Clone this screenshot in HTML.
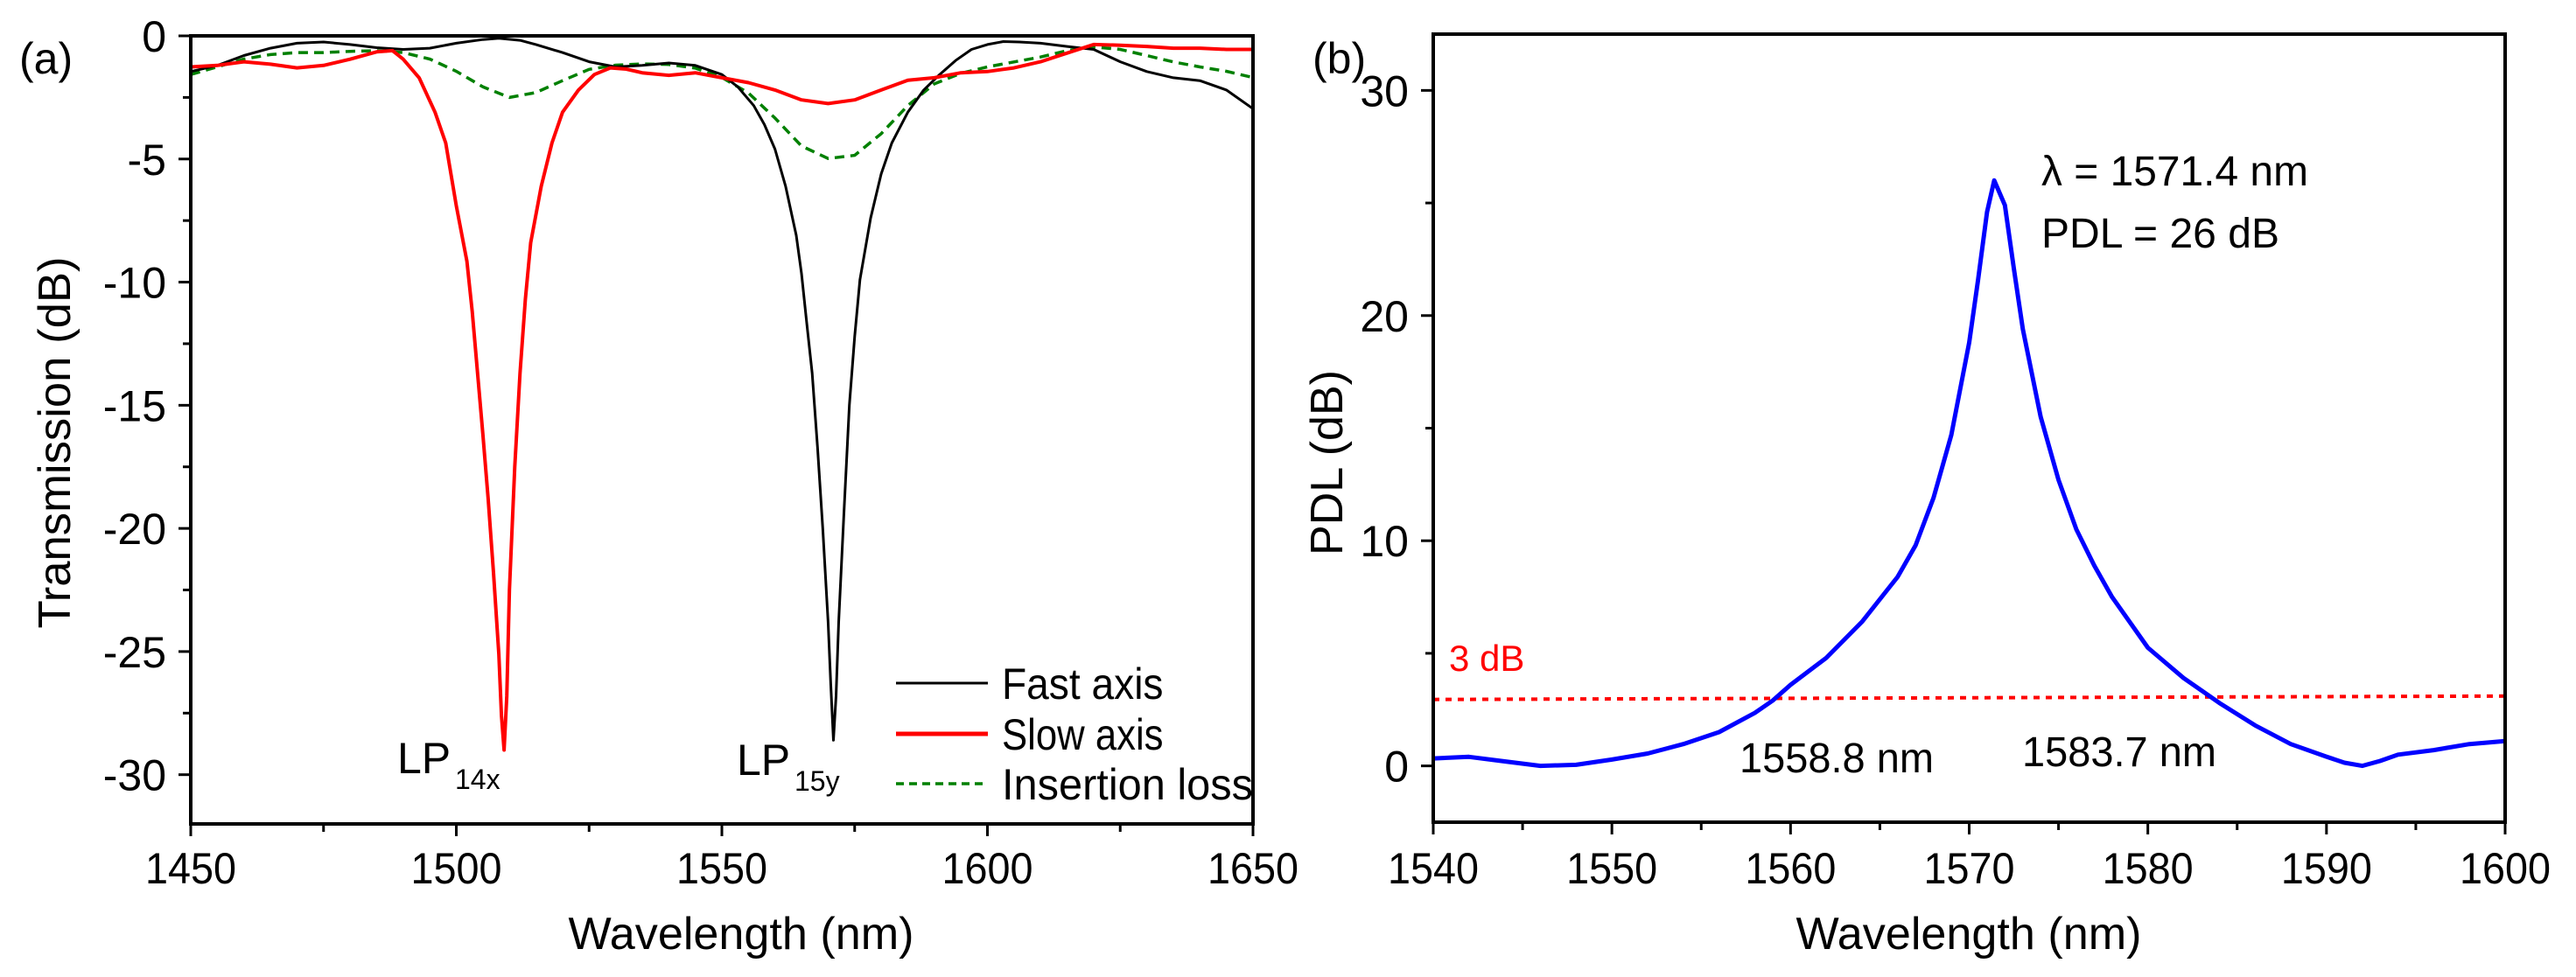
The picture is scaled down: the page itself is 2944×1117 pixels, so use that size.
<!DOCTYPE html>
<html><head><meta charset="utf-8"><style>
html,body{margin:0;padding:0;background:#fff}
svg{display:block;font-family:"Liberation Sans",Arial,sans-serif}
</style></head><body>
<svg id="chart" width="2944" height="1117" viewBox="0 0 2944 1117" xmlns="http://www.w3.org/2000/svg">
<g id="pa"></g>
<g id="pb"></g>
</svg>
<script>
// Panel (a) data
const aWl = [1450,1455,1460,1465,1470,1475,1480,1485,1488,1490,1493,1496,1498,1500,1502,1503,1504,1505,1506,1507,1508,1508.5,1509,1509.5,1510,1511,1512,1513,1514,1516,1518,1520,1523,1526,1529,1532,1535,1540,1545,1550,1555,1560,1565,1570,1575,1580,1585,1590,1595,1600,1605,1610,1615,1620,1625,1630,1635,1640,1645,1650];
const slowAxis = [-1.26,-1.2,-1.05,-1.15,-1.3,-1.2,-0.95,-0.65,-0.6,-0.95,-1.7,-3.1,-4.35,-6.9,-9.15,-11.2,-13.7,-16.2,-18.8,-21.8,-25.1,-27.6,-29.0,-26.8,-22.5,-17.5,-13.7,-10.7,-8.4,-6.1,-4.35,-3.1,-2.2,-1.57,-1.3,-1.35,-1.5,-1.6,-1.5,-1.7,-1.9,-2.2,-2.6,-2.75,-2.6,-2.2,-1.8,-1.7,-1.5,-1.45,-1.3,-1.05,-0.7,-0.35,-0.38,-0.43,-0.5,-0.5,-0.55,-0.55];
const fastWl = [1450,1455,1460,1465,1470,1475,1480,1485,1490,1495,1500,1505,1508,1512,1515,1520,1525,1530,1535,1540,1545,1550,1553,1556,1558,1560,1562,1564,1565,1566,1567,1568,1569,1570,1570.5,1571,1571.5,1572,1573,1574,1575,1576,1578,1580,1582,1585,1588,1591,1594,1597,1600,1603,1606,1610,1615,1620,1625,1630,1635,1640,1645,1650];
const fastAxis = [-1.45,-1.2,-0.8,-0.5,-0.3,-0.25,-0.35,-0.48,-0.55,-0.5,-0.3,-0.15,-0.1,-0.18,-0.35,-0.68,-1.05,-1.26,-1.2,-1.1,-1.2,-1.57,-2.07,-2.83,-3.6,-4.6,-6.1,-8.1,-9.65,-11.7,-13.7,-16.7,-20.0,-23.8,-26.3,-28.6,-26.8,-23.8,-19.3,-15,-12.2,-9.9,-7.4,-5.6,-4.35,-3.1,-2.2,-1.57,-1.0,-0.55,-0.35,-0.23,-0.25,-0.3,-0.43,-0.55,-1.05,-1.45,-1.7,-1.82,-2.2,-2.96];
const ilWl = [1450,1455,1460,1465,1470,1475,1480,1485,1490,1495,1500,1505,1510,1515,1520,1525,1530,1535,1540,1545,1550,1555,1560,1565,1570,1575,1580,1585,1590,1595,1600,1605,1610,1615,1620,1625,1630,1635,1640,1645,1650];
const insertionLoss = [-1.57,-1.26,-0.94,-0.76,-0.68,-0.68,-0.63,-0.6,-0.68,-0.94,-1.44,-2.07,-2.5,-2.3,-1.82,-1.36,-1.19,-1.14,-1.16,-1.31,-1.69,-2.32,-3.34,-4.47,-4.98,-4.85,-3.97,-2.83,-1.95,-1.52,-1.26,-1.06,-0.86,-0.6,-0.45,-0.55,-0.8,-1.06,-1.26,-1.44,-1.69];
const aXTicks = [1450,1500,1550,1600,1650];
const aYTicks = [0,-5,-10,-15,-20,-25,-30];
// Panel (b) data
const bWl = [1540,1542,1544,1546,1548,1550,1552,1554,1556,1558,1559,1560,1562,1564,1566,1567,1568,1569,1570,1570.5,1571,1571.4,1572,1572.5,1573,1574,1575,1576,1577,1578,1580,1582,1584,1586,1588,1590,1591,1592,1593,1594,1596,1598,1600];
const pdl = [0.33,0.4,0.2,0.0,0.05,0.28,0.55,0.97,1.5,2.35,2.9,3.6,4.8,6.4,8.4,9.8,11.9,14.7,18.8,21.6,24.6,26.0,24.9,22.1,19.4,15.5,12.7,10.5,8.9,7.5,5.25,3.9,2.8,1.8,0.97,0.41,0.14,0.0,0.22,0.5,0.7,0.97,1.1];
const thrWl = [1540,1600];
const thrVal = [2.95,3.1];
const bXTicks = [1540,1550,1560,1570,1580,1590,1600];
const bYTicks = [0,10,20,30];

const NS = "http://www.w3.org/2000/svg";
function mk(parent, tag, attrs, text){
  const e = document.createElementNS(NS, tag);
  for (const k in attrs) e.setAttribute(k, attrs[k]);
  if (text !== undefined) e.textContent = text;
  parent.appendChild(e);
  return e;
}
function pathD(xs, ys, fx, fy){
  return xs.map((x,i)=>(i?'L':'M')+fx(x).toFixed(1)+','+fy(ys[i]).toFixed(1)).join('');
}

// ---------- Panel A ----------
const pa = document.getElementById('pa');
const aL=218,aR=1432,aT=41,aB=942;
const ax = v => aL + (v-1450)/(200)*(aR-aL);
const ay = v => aT + (0 - v)/32*(aB-aT);
let e;
e = mk(pa,'path',{d:pathD(ilWl,insertionLoss,ax,ay),fill:'none',stroke:'#008000','stroke-width':3.5,'stroke-dasharray':'11 7'});


e = mk(pa,'path',{d:pathD(fastWl,fastAxis,ax,ay),fill:'none',stroke:'#000','stroke-width':3,'stroke-linejoin':'round'});


e = mk(pa,'path',{d:pathD(aWl,slowAxis,ax,ay),fill:'none',stroke:'#ff0000','stroke-width':4,'stroke-linejoin':'round'});


e = mk(pa,'rect',{x:aL,y:aT,width:aR-aL,height:aB-aT,fill:'none',stroke:'#000','stroke-width':4});


for (let v=1450; v<=1650; v+=25){
  const maj = (v%50===0);
  e = mk(pa,'line',{x1:ax(v),x2:ax(v),y1:aB,y2:aB+(maj?14:9),stroke:'#000','stroke-width':3});
  
  
}
aXTicks.forEach(v=>{
  e = mk(pa,'text',{x:ax(v),y:1010,'font-size':50,'text-anchor':'middle',textLength:104,lengthAdjust:'spacingAndGlyphs'},String(v));
  
  
});
for (let v=0; v>=-30; v-=2.5){
  const maj = (v%5===0);
  e = mk(pa,'line',{x1:aL-(maj?14:9),x2:aL,y1:ay(v),y2:ay(v),stroke:'#000','stroke-width':3});
  
  
}
aYTicks.forEach(v=>{
  e = mk(pa,'text',{x:190,y:ay(v)+18,'font-size':50,'text-anchor':'end'},String(v));
  
  
});
e = mk(pa,'text',{x:0,y:0,'font-size':52,'text-anchor':'middle',transform:'translate(80,506) rotate(-90)',textLength:425,lengthAdjust:'spacingAndGlyphs'},'Transmission (dB)');


e = mk(pa,'text',{x:847,y:1085,'font-size':52,'text-anchor':'middle',textLength:395,lengthAdjust:'spacingAndGlyphs'},'Wavelength (nm)');


e = mk(pa,'text',{x:22,y:84,'font-size':50},'(a)');


e = mk(pa,'text',{x:454,y:884,'font-size':50},'LP');


e = mk(pa,'text',{x:520,y:902,'font-size':32},'14x');


e = mk(pa,'text',{x:842,y:886,'font-size':50},'LP');


e = mk(pa,'text',{x:908,y:904,'font-size':32},'15y');


const legItems = [['Fast axis','#000',3,null,781],['Slow axis','#ff0000',5,null,839],['Insertion loss','#008000',3.5,'9 6',896]];
legItems.forEach(it=>{
  const g = mk(pa,'g',{});
  
  
  const at = {x1:1024,x2:1129,y1:it[4],y2:it[4],stroke:it[1],'stroke-width':it[2]};
  if (it[3]) at['stroke-dasharray']=it[3];
  e = mk(g,'line',at);
  
  
  e = mk(g,'text',{x:1145,y:it[4]+18,'font-size':50,textLength:it[0].length*20.5,lengthAdjust:'spacingAndGlyphs'},it[0]);
  
  
});

// ---------- Panel B ----------
const pb = document.getElementById('pb');
const bL=1638,bR=2863,bT=39,bB=940;
const bx = v => bL + (v-1540)/60*(bR-bL);
const by = v => bT + (32.5 - v)/35*(bB-bT);
e = mk(pb,'path',{d:pathD(thrWl,thrVal,bx,by),fill:'none',stroke:'#ff0000','stroke-width':4,'stroke-dasharray':'7 7'});


e = mk(pb,'path',{d:pathD(bWl,pdl,bx,by),fill:'none',stroke:'#0000ff','stroke-width':5,'stroke-linejoin':'round'});


e = mk(pb,'rect',{x:bL,y:bT,width:bR-bL,height:bB-bT,fill:'none',stroke:'#000','stroke-width':4});


for (let v=1540; v<=1600; v+=5){
  const maj = (v%10===0);
  e = mk(pb,'line',{x1:bx(v),x2:bx(v),y1:bB,y2:bB+(maj?14:9),stroke:'#000','stroke-width':3});
  
  
}
bXTicks.forEach(v=>{
  e = mk(pb,'text',{x:bx(v),y:1010,'font-size':50,'text-anchor':'middle',textLength:104,lengthAdjust:'spacingAndGlyphs'},String(v));
  
  
});
for (let v=0; v<=30; v+=5){
  const maj = (v%10===0);
  e = mk(pb,'line',{x1:bL-(maj?14:9),x2:bL,y1:by(v),y2:by(v),stroke:'#000','stroke-width':3});
  
  
}
bYTicks.forEach(v=>{
  e = mk(pb,'text',{x:1610,y:by(v)+18,'font-size':50,'text-anchor':'end'},String(v));
  
  
});
e = mk(pb,'text',{x:0,y:0,'font-size':52,'text-anchor':'middle',transform:'translate(1534,529) rotate(-90)'},'PDL (dB)');


e = mk(pb,'text',{x:2250,y:1085,'font-size':52,'text-anchor':'middle',textLength:395,lengthAdjust:'spacingAndGlyphs'},'Wavelength (nm)');


e = mk(pb,'text',{x:1500,y:84,'font-size':50},'(b)');


e = mk(pb,'text',{x:1656,y:767,'font-size':42,fill:'#ff0000'},'3 dB');


e = mk(pb,'text',{x:2333,y:212,'font-size':48,textLength:305,lengthAdjust:'spacingAndGlyphs'},'λ = 1571.4 nm');


e = mk(pb,'text',{x:2333,y:283,'font-size':48,textLength:272,lengthAdjust:'spacingAndGlyphs'},'PDL = 26 dB');


e = mk(pb,'text',{x:1988,y:883,'font-size':48,textLength:222,lengthAdjust:'spacingAndGlyphs'},'1558.8 nm');


e = mk(pb,'text',{x:2311,y:876,'font-size':48,textLength:222,lengthAdjust:'spacingAndGlyphs'},'1583.7 nm');


</script>
</body></html>
